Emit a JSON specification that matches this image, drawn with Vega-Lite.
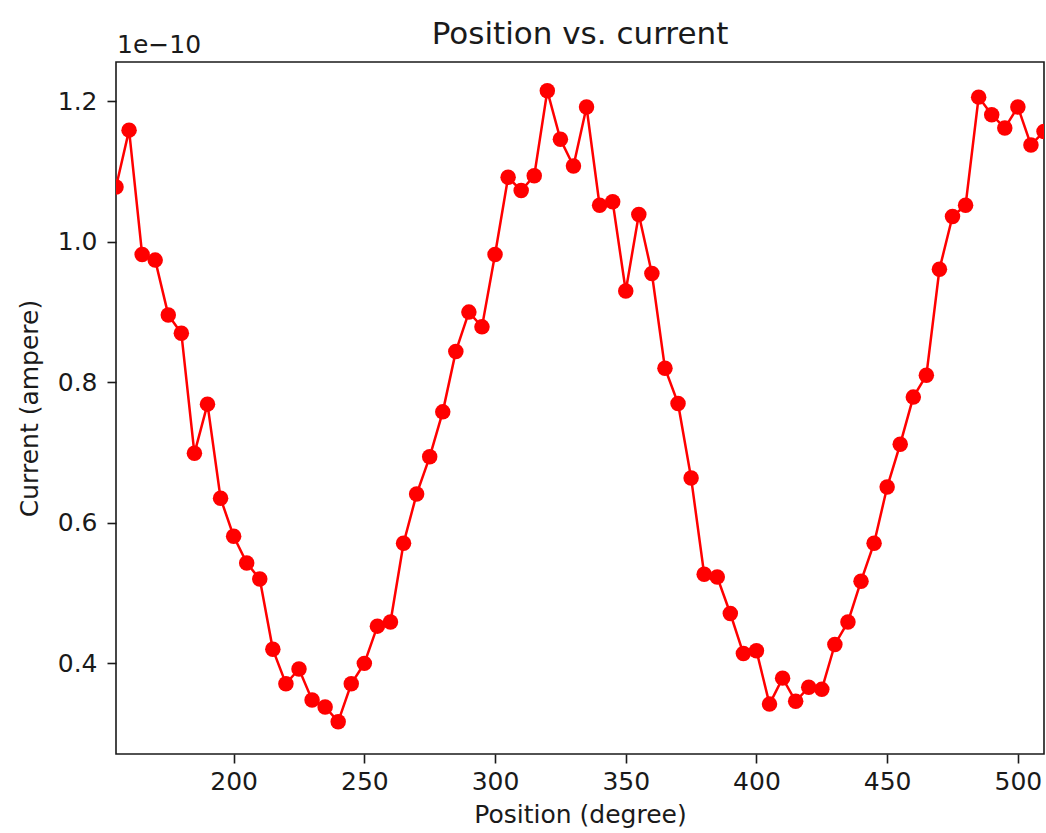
{
  "$schema": "https://vega.github.io/schema/vega-lite/v6.json",
  "autosize": "none",
  "width": 928,
  "height": 692,
  "padding": {"left": 116, "top": 62, "right": 2, "bottom": 79},
  "background": "#ffffff",
  "title": {
    "text": "Position vs. current",
    "font": "DejaVu Sans",
    "fontSize": 31,
    "fontWeight": "normal",
    "color": "#1a1a1a",
    "baseline": "top",
    "offset": -18,
    "anchor": "middle"
  },
  "config": {
    "view": {"stroke": "#1a1a1a", "strokeWidth": 1.6},
    "axis": {
      "domain": false,
      "grid": false,
      "labelFont": "DejaVu Sans",
      "labelFontSize": 25,
      "labelColor": "#1a1a1a",
      "titleFont": "DejaVu Sans",
      "titleFontSize": 25,
      "titleFontWeight": "normal",
      "titleColor": "#1a1a1a",
      "tickColor": "#1a1a1a",
      "tickWidth": 1.6,
      "tickSize": 9
    }
  },
  "data": {
    "values": [
      {"position": 155, "current": 1.078e-10},
      {"position": 160, "current": 1.159e-10},
      {"position": 165, "current": 0.982e-10},
      {"position": 170, "current": 0.974e-10},
      {"position": 175, "current": 0.896e-10},
      {"position": 180, "current": 0.870e-10},
      {"position": 185, "current": 0.699e-10},
      {"position": 190, "current": 0.769e-10},
      {"position": 195, "current": 0.635e-10},
      {"position": 200, "current": 0.581e-10},
      {"position": 205, "current": 0.543e-10},
      {"position": 210, "current": 0.520e-10},
      {"position": 215, "current": 0.420e-10},
      {"position": 220, "current": 0.371e-10},
      {"position": 225, "current": 0.392e-10},
      {"position": 230, "current": 0.348e-10},
      {"position": 235, "current": 0.338e-10},
      {"position": 240, "current": 0.317e-10},
      {"position": 245, "current": 0.371e-10},
      {"position": 250, "current": 0.400e-10},
      {"position": 255, "current": 0.453e-10},
      {"position": 260, "current": 0.459e-10},
      {"position": 265, "current": 0.571e-10},
      {"position": 270, "current": 0.641e-10},
      {"position": 275, "current": 0.694e-10},
      {"position": 280, "current": 0.758e-10},
      {"position": 285, "current": 0.844e-10},
      {"position": 290, "current": 0.900e-10},
      {"position": 295, "current": 0.879e-10},
      {"position": 300, "current": 0.982e-10},
      {"position": 305, "current": 1.092e-10},
      {"position": 310, "current": 1.073e-10},
      {"position": 315, "current": 1.094e-10},
      {"position": 320, "current": 1.215e-10},
      {"position": 325, "current": 1.146e-10},
      {"position": 330, "current": 1.108e-10},
      {"position": 335, "current": 1.192e-10},
      {"position": 340, "current": 1.052e-10},
      {"position": 345, "current": 1.057e-10},
      {"position": 350, "current": 0.930e-10},
      {"position": 355, "current": 1.039e-10},
      {"position": 360, "current": 0.955e-10},
      {"position": 365, "current": 0.820e-10},
      {"position": 370, "current": 0.770e-10},
      {"position": 375, "current": 0.664e-10},
      {"position": 380, "current": 0.527e-10},
      {"position": 385, "current": 0.523e-10},
      {"position": 390, "current": 0.471e-10},
      {"position": 395, "current": 0.414e-10},
      {"position": 400, "current": 0.418e-10},
      {"position": 405, "current": 0.342e-10},
      {"position": 410, "current": 0.379e-10},
      {"position": 415, "current": 0.346e-10},
      {"position": 420, "current": 0.366e-10},
      {"position": 425, "current": 0.363e-10},
      {"position": 430, "current": 0.427e-10},
      {"position": 435, "current": 0.459e-10},
      {"position": 440, "current": 0.517e-10},
      {"position": 445, "current": 0.571e-10},
      {"position": 450, "current": 0.651e-10},
      {"position": 455, "current": 0.712e-10},
      {"position": 460, "current": 0.779e-10},
      {"position": 465, "current": 0.810e-10},
      {"position": 470, "current": 0.961e-10},
      {"position": 475, "current": 1.036e-10},
      {"position": 480, "current": 1.052e-10},
      {"position": 485, "current": 1.206e-10},
      {"position": 490, "current": 1.181e-10},
      {"position": 495, "current": 1.162e-10},
      {"position": 500, "current": 1.192e-10},
      {"position": 505, "current": 1.138e-10},
      {"position": 510, "current": 1.157e-10}
    ]
  },
  "encoding": {
    "x": {
      "field": "position",
      "type": "quantitative",
      "scale": {"domain": [155, 510], "nice": false, "zero": false},
      "axis": {
        "title": "Position (degree)",
        "values": [200, 250, 300, 350, 400, 450, 500],
        "labelPadding": 6,
        "titlePadding": 8
      }
    },
    "y": {
      "field": "current",
      "type": "quantitative",
      "scale": {"domain": [0.271e-10, 1.256e-10], "nice": false, "zero": false},
      "axis": {
        "title": "Current (ampere)",
        "values": [0.4e-10, 0.6e-10, 0.8e-10, 1.0e-10, 1.2e-10],
        "labelExpr": "format(datum.value * 1e10, '.1f')",
        "labelPadding": 10,
        "titlePadding": 15
      }
    }
  },
  "layer": [
    {
      "mark": {"type": "line", "color": "#ff0000", "strokeWidth": 2.5, "clip": true}
    },
    {
      "mark": {"type": "point", "filled": true, "shape": "circle", "color": "#ff0000", "opacity": 1, "size": 240, "clip": true}
    },
    {
      "transform": [{"filter": "datum.position === 155"}],
      "mark": {
        "type": "text",
        "text": "1e\u221210",
        "font": "DejaVu Sans",
        "fontSize": 25,
        "color": "#1a1a1a",
        "align": "left",
        "baseline": "alphabetic",
        "dx": 1,
        "dy": -9
      },
      "encoding": {
        "x": {"datum": 155},
        "y": {"datum": 1.256e-10}
      }
    }
  ]
}
